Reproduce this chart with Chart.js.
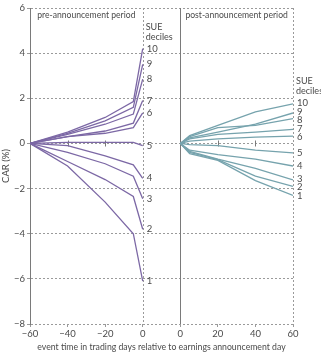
<!DOCTYPE html>
<html>
<head>
<meta charset="utf-8">
<script src="https://cdn.jsdelivr.net/npm/chart.js@4"></script>
<style>
  html, body { margin: 0; padding: 0; background: #fff; }
</style>
</head>
<body>
<canvas id="car" width="321" height="353"></canvas>
<script>
const deciles = ['1', '2', '3', '4', '5', '6', '7', '8', '9', '10'];

// pre-announcement window, CAR (%) per SUE decile
const preDays = [-60, -40, -20, -5, 0];
const preCar = [
  [0, -1.0, -2.6, -4.0, -6.1],
  [0, -0.8, -1.6, -2.35, -3.8],
  [0, -0.4, -0.9, -1.45, -2.45],
  [0, -0.1, -0.55, -0.95, -1.55],
  [0, 0.05, 0.05, 0.05, -0.1],
  [0, 0.3, 0.45, 0.7, 1.35],
  [0, 0.3, 0.55, 0.9, 1.9],
  [0, 0.4, 0.85, 1.3, 2.85],
  [0, 0.45, 1.0, 1.6, 3.5],
  [0, 0.5, 1.15, 1.85, 4.2]
];

// post-announcement window
const postDays = [0, 5, 20, 40, 60];
const postCar = [
  [0, -0.45, -0.75, -1.65, -2.3],
  [0, -0.4, -0.72, -1.45, -1.9],
  [0, -0.35, -0.7, -1.1, -1.62],
  [0, -0.3, -0.5, -0.7, -1.0],
  [0, -0.05, -0.1, -0.3, -0.42],
  [0, 0.1, 0.2, 0.28, 0.32],
  [0, 0.2, 0.4, 0.5, 0.62],
  [0, 0.3, 0.7, 0.8, 1.1],
  [0, 0.25, 0.5, 0.85, 1.35],
  [0, 0.35, 0.8, 1.4, 1.75]
];

const yTicks = [-8, -6, -4, -2, 0, 2, 4, 6];

const FONT = "Lato, 'Open Sans', sans-serif";
const TXT = '#4a4a4a';
const PRE_COLOR = '#7c68a5';
const POST_COLOR = '#76a3ad';

// the two panels share one plot area: post axis = pre axis shifted by this gap
const GAP = 20;

const fmt = v => String(v).replace('-', '\u2212');

function makeSets(days, car, axis, color) {
  return car.map((vals, i) => ({
    label: deciles[i],
    data: vals.map((v, j) => ({ x: days[j], y: v })),
    xAxisID: axis,
    borderColor: color,
    borderWidth: 1.3,
    pointRadius: 0,
    tension: 0,
    fill: false
  }));
}

// spread end labels so they don't overlap
function spread(items, gap) {
  items.sort((a, b) => a.y - b.y);
  for (let k = 0; k < 40; k++) {
    for (let i = 1; i < items.length; i++) {
      const d = items[i].y - items[i - 1].y;
      if (d < gap) {
        const push = (gap - d) / 2;
        items[i].y += push;
        items[i - 1].y -= push;
      }
    }
  }
  return items;
}

const panelDeco = {
  id: 'panelDeco',
  beforeDatasetsDraw(chart) {
    const { ctx, chartArea: a, scales } = chart;
    const xl = scales.x, xr = scales.x2, y = scales.y;
    const r = v => Math.round(v) + 0.5;
    ctx.save();
    ctx.lineWidth = 1;
    ctx.strokeStyle = '#9a9a9a';
    ctx.setLineDash([2, 2]);
    [xl.getPixelForValue(0), xr.getPixelForValue(60)].forEach(px => {
      ctx.beginPath();
      ctx.moveTo(r(px), a.top);
      ctx.lineTo(r(px), a.bottom);
      ctx.stroke();
    });
    ctx.setLineDash([]);
    ctx.strokeStyle = '#7a7a7a';
    const p0 = r(xr.getPixelForValue(0));
    ctx.beginPath();
    ctx.moveTo(p0, a.top);
    ctx.lineTo(p0, a.bottom);
    ctx.stroke();
    // small ticks on the zero line
    const y0 = r(y.getPixelForValue(0));
    [[xl, -40], [xl, -20], [xr, 20], [xr, 40]].forEach(([s, v]) => {
      const px = r(s.getPixelForValue(v));
      ctx.beginPath();
      ctx.moveTo(px, y0 - 3);
      ctx.lineTo(px, y0 + 3);
      ctx.stroke();
    });
    ctx.restore();
  },
  afterDatasetsDraw(chart) {
    const { ctx, chartArea: a, scales } = chart;
    ctx.save();
    ctx.fillStyle = TXT;
    ctx.font = '9.5px ' + FONT;
    ctx.textBaseline = 'middle';
    ctx.textAlign = 'left';
    ['x', 'x2'].forEach(axis => {
      const items = [];
      chart.data.datasets.forEach((ds, i) => {
        if (ds.xAxisID !== axis) return;
        const pts = chart.getDatasetMeta(i).data;
        const last = pts[pts.length - 1];
        items.push({ text: ds.label, x: last.x, y: last.y });
      });
      spread(items, 8.5);
      items.forEach(it => ctx.fillText(it.text, it.x + 4, it.y));
      const top = items[0];
      ctx.font = '9px ' + FONT;
      ctx.fillText('SUE', top.x + 3, top.y - 22);
      ctx.fillText('deciles', top.x + 3, top.y - 12);
      ctx.font = '9.5px ' + FONT;
    });
    // panel titles
    ctx.textAlign = 'center';
    ctx.font = '8.6px ' + FONT;
    const xl = scales.x, xr = scales.x2;
    ctx.fillText('pre-announcement period', (xl.getPixelForValue(-60) + xl.getPixelForValue(0)) / 2, a.top + 7);
    ctx.fillText('post-announcement period', (xr.getPixelForValue(0) + xr.getPixelForValue(60)) / 2, a.top + 7);
    ctx.restore();
  }
};

new Chart(document.getElementById('car'), {
  type: 'line',
  data: {
    datasets: [
      ...makeSets(preDays, preCar, 'x', PRE_COLOR),
      ...makeSets(postDays, postCar, 'x2', POST_COLOR)
    ]
  },
  options: {
    responsive: false,
    animation: false,
    layout: { padding: { top: 8, right: 28, left: 0, bottom: 0 } },
    plugins: { legend: { display: false }, tooltip: { enabled: false } },
    scales: {
      x: {
        type: 'linear',
        position: 'bottom',
        min: -60,
        max: 60 + GAP,
        afterFit: s => { s.height = 29; },
        ticks: {
          stepSize: 20,
          autoSkip: false,
          maxRotation: 0,
          padding: 1,
          color: TXT,
          font: { family: FONT, size: 9.5 },
          callback: v => fmt(v <= 0 ? v : v - GAP)
        },
        grid: { display: true, drawOnChartArea: false, tickLength: 3, color: '#9a9a9a' },
        border: { display: false },
        title: {
          display: true,
          text: 'event time in trading days relative to earnings announcement day',
          color: TXT,
          font: { family: FONT, size: 8.7 },
          padding: { top: 0, bottom: 1 }
        }
      },
      x2: {
        type: 'linear',
        position: 'bottom',
        min: -60 - GAP,
        max: 60,
        display: false
      },
      y: {
        min: -8,
        max: 6,
        afterFit: s => { s.width = 30; },
        afterBuildTicks: s => { s.ticks = yTicks.map(v => ({ value: v })); },
        ticks: {
          padding: 2,
          color: TXT,
          font: { family: FONT, size: 9.5 },
          callback: v => fmt(v)
        },
        grid: { color: '#9a9a9a', tickLength: 3, tickBorderDash: [] },
        border: { display: true, color: '#7a7a7a', dash: [2, 2] },
        title: {
          display: true,
          text: 'CAR (%)',
          color: TXT,
          font: { family: FONT, size: 9.5 },
          padding: 0
        }
      }
    }
  },
  plugins: [panelDeco]
});
</script>
</body>
</html>
